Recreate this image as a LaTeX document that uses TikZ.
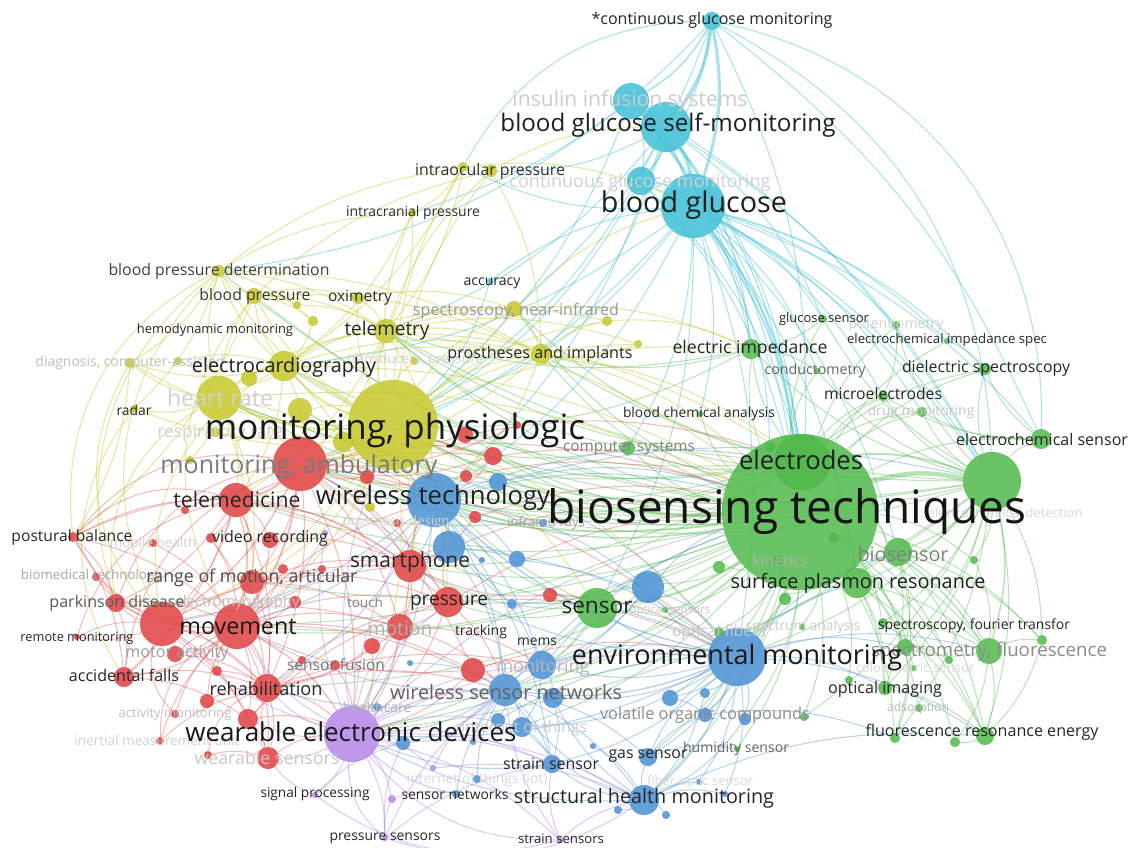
\documentclass[tikz,border=0pt]{standalone}
\usepackage{fontspec}
\setmainfont{Open Sans}
\usepackage{graphicx}
\pgfdeclarelayer{edges}
\pgfdeclarelayer{labels}
\pgfsetlayers{edges,main,labels}
\definecolor{vgreen}{RGB}{80,185,75}
\definecolor{vblue}{RGB}{74,144,212}
\definecolor{vred}{RGB}{224,64,64}
\definecolor{vyellow}{RGB}{198,200,42}
\definecolor{vcyan}{RGB}{62,192,214}
\definecolor{vpurple}{RGB}{180,134,232}
\tikzset{
  kw/.style={circle, inner sep=0pt, draw=black, draw opacity=0.06, line width=0.4pt, fill opacity=0.85},
  kl/.style={inner sep=0pt, anchor=center},
  ge/.style={draw=vgreen, draw opacity=0.40, line width=1pt},
  be/.style={draw=vblue, draw opacity=0.40, line width=1pt},
  re/.style={draw=vred, draw opacity=0.36, line width=1pt},
  ye/.style={draw=vyellow, draw opacity=0.45, line width=1pt},
  ce/.style={draw=vcyan, draw opacity=0.45, line width=1pt},
  pe/.style={draw=vpurple, draw opacity=0.45, line width=1pt},
}
\newcommand{\kwn}[4]{\node[kw, fill=#4, minimum size={2*#3pt}] (#1) at (#2) {};}
\newcommand{\kwl}[5]{\node[kl, text=#4] (#1) at (#2) {\resizebox{#3pt}{!}{#5}};}
\begin{document}
\begin{tikzpicture}[x=1pt,y=-1pt]
\useasboundingbox (0,0) rectangle (1131,847);
\begin{pgfonlayer}{edges}
\fill[white] (0,0) rectangle (1131,847);
\end{pgfonlayer}
% ---------------- cyan
\kwn{c1}{712,21}{9}{vcyan}
\kwn{c2}{631,101}{18}{vcyan}
\kwn{c3}{666,127}{25}{vcyan}
\kwn{c4}{641,181}{14}{vcyan}
\kwn{c5}{693,206}{32}{vcyan}
\kwn{c6}{490,281}{3}{vcyan}
% ---------------- yellow
\kwn{y1}{463,167}{5}{vyellow}
\kwn{y2}{491,171}{6}{vyellow}
\kwn{y3}{412,213}{4}{vyellow}
\kwn{y4}{219,271}{6}{vyellow}
\kwn{y5}{254,296}{8}{vyellow}
\kwn{y6}{297,305}{4}{vyellow}
\kwn{y7}{313,321}{5}{vyellow}
\kwn{y8}{358,298}{6}{vyellow}
\kwn{y9}{386,331}{12}{vyellow}
\kwn{y11}{514,309}{8}{vyellow}
\kwn{y12}{607,321}{5}{vyellow}
\kwn{y13}{638,344}{4}{vyellow}
\kwn{y14}{541,354}{10}{vyellow}
\kwn{y15}{414,361}{4}{vyellow}
\kwn{y16}{130,363}{5}{vyellow}
\kwn{y17}{178,361}{4}{vyellow}
\kwn{y18}{284,366}{15}{vyellow}
\kwn{y19}{249,378}{8}{vyellow}
\kwn{y20}{134,409}{4}{vyellow}
\kwn{y21}{219,398}{22}{vyellow}
\kwn{y22}{300,410}{12}{vyellow}
\kwn{y23}{393,425}{45}{vyellow}
\kwn{y25}{343,442}{10}{vyellow}
\kwn{y26}{215,432}{5}{vyellow}
\kwn{y28}{370,507}{5}{vyellow}
\kwn{y29}{190,460}{4}{vyellow}
% ---------------- red
\kwn{r1}{300,464}{27}{vred}
\kwn{r2}{236,500}{17}{vred}
\kwn{r3}{185,510}{4}{vred}
\kwn{r4}{493,456}{9}{vred}
\kwn{r5}{465,435}{8}{vred}
\kwn{r6}{517,425}{4}{vred}
\kwn{r7}{466,476}{6}{vred}
\kwn{r8}{475,517}{6}{vred}
\kwn{r9}{367,477}{7}{vred}
\kwn{r10}{73,537}{5}{vred}
\kwn{r11}{153,543}{4}{vred}
\kwn{r12}{211,538}{5}{vred}
\kwn{r13}{270,540}{8}{vred}
\kwn{r14}{410,566}{16}{vred}
\kwn{r15}{96,577}{4}{vred}
\kwn{r16}{252,582}{12}{vred}
\kwn{r17}{116,603}{9}{vred}
\kwn{r18}{162,624}{22}{vred}
\kwn{r19}{237,626}{23}{vred}
\kwn{r20}{283,569}{5}{vred}
\kwn{r21}{322,569}{4}{vred}
\kwn{r22}{77,637}{3}{vred}
\kwn{r23}{175,654}{8}{vred}
\kwn{r24}{217,671}{5}{vred}
\kwn{r25}{124,677}{10}{vred}
\kwn{r26}{267,688}{14}{vred}
\kwn{r27}{207,701}{7}{vred}
\kwn{r28}{175,714}{4}{vred}
\kwn{r29}{248,719}{10}{vred}
\kwn{r30}{160,741}{4}{vred}
\kwn{r31}{208,755}{4}{vred}
\kwn{r32}{268,758}{11}{vred}
\kwn{r33}{448,602}{15}{vred}
\kwn{r34}{400,627}{13}{vred}
\kwn{r35}{372,646}{8}{vred}
\kwn{r36}{335,665}{5}{vred}
\kwn{r37}{473,670}{12}{vred}
\kwn{r38}{550,595}{7}{vred}
\kwn{r39}{295,602}{6}{vred}
\kwn{r41}{302,660}{4}{vred}
\kwn{r45}{397,523}{4}{vred}
% ---------------- purple
\kwn{p1}{352,734}{28}{vpurple}
\kwn{p2}{315,795}{3}{vpurple}
\kwn{p3}{385,838}{3}{vpurple}
\kwn{p4}{560,840}{3}{vpurple}
\kwn{p5}{433,768}{3}{vpurple}
\kwn{p6}{392,799}{4}{vpurple}
\kwn{p7}{325,533}{3}{vpurple}
% ---------------- blue
\kwn{b1}{434,500}{27}{vblue}
\kwn{b2}{449,547}{16}{vblue}
\kwn{b3}{498,482}{9}{vblue}
\kwn{b4}{517,559}{8}{vblue}
\kwn{b5}{482,560}{3}{vblue}
\kwn{b6}{512,604}{5}{vblue}
\kwn{b7}{648,587}{16}{vblue}
\kwn{b8}{737,657}{29}{vblue}
\kwn{b9}{542,665}{14}{vblue}
\kwn{b10}{505,690}{16}{vblue}
\kwn{b11}{553,698}{10}{vblue}
\kwn{b12}{498,720}{7}{vblue}
\kwn{b13}{522,727}{10}{vblue}
\kwn{b14}{403,743}{7}{vblue}
\kwn{b15}{473,742}{3}{vblue}
\kwn{b16}{552,764}{9}{vblue}
\kwn{b17}{648,757}{9}{vblue}
\kwn{b18}{593,746}{3}{vblue}
\kwn{b19}{670,698}{8}{vblue}
\kwn{b20}{705,693}{5}{vblue}
\kwn{b21}{705,715}{7}{vblue}
\kwn{b22}{745,719}{6}{vblue}
\kwn{b23}{699,782}{3}{vblue}
\kwn{b24}{725,794}{3}{vblue}
\kwn{b25}{644,800}{15}{vblue}
\kwn{b26}{618,810}{4}{vblue}
\kwn{b27}{666,815}{4}{vblue}
\kwn{b28}{456,794}{4}{vblue}
\kwn{b29}{477,779}{4}{vblue}
\kwn{b30}{377,707}{4}{vblue}
\kwn{b31}{410,663}{3}{vblue}
\kwn{b33}{543,523}{4}{vblue}
% ---------------- green
\kwn{g1}{800,512}{78}{vgreen}
\kwn{g2}{802,462}{28}{vgreen}
\kwn{g3}{992,481}{29}{vgreen}
\kwn{g4}{1041,439}{10}{vgreen}
\kwn{g5}{751,349}{10}{vgreen}
\kwn{g6}{823,319}{4}{vgreen}
\kwn{g7}{896,325}{4}{vgreen}
\kwn{g8}{947,341}{3}{vgreen}
\kwn{g9}{817,371}{3}{vgreen}
\kwn{g10}{985,369}{6}{vgreen}
\kwn{g11}{883,396}{5}{vgreen}
\kwn{g12}{922,412}{5}{vgreen}
\kwn{g13}{700,414}{3}{vgreen}
\kwn{g14}{628,448}{7}{vgreen}
\kwn{g15}{770,447}{5}{vgreen}
\kwn{g16}{597,608}{20}{vgreen}
\kwn{g17}{665,610}{3}{vgreen}
\kwn{g18}{719,632}{5}{vgreen}
\kwn{g19}{802,627}{3}{vgreen}
\kwn{g20}{719,567}{6}{vgreen}
\kwn{g21}{778,561}{5}{vgreen}
\kwn{g22}{834,538}{5}{vgreen}
\kwn{g23}{785,599}{6}{vgreen}
\kwn{g24}{898,552}{14}{vgreen}
\kwn{g25}{857,583}{15}{vgreen}
\kwn{g26}{974,560}{4}{vgreen}
\kwn{g27}{883,623}{5}{vgreen}
\kwn{g28}{989,651}{13}{vgreen}
\kwn{g29}{1042,640}{5}{vgreen}
\kwn{g30}{905,647}{8}{vgreen}
\kwn{g31}{949,660}{4}{vgreen}
\kwn{g32}{914,668}{3}{vgreen}
\kwn{g33}{885,688}{7}{vgreen}
\kwn{g34}{849,680}{4}{vgreen}
\kwn{g35}{919,708}{4}{vgreen}
\kwn{g36}{895,738}{5}{vgreen}
\kwn{g37}{955,742}{5}{vgreen}
\kwn{g38}{985,736}{9}{vgreen}
\kwn{g39}{804,717}{4}{vgreen}
\kwn{g40}{737,749}{3}{vgreen}

\begin{pgfonlayer}{edges}
% cyan
\foreach \a/\b/\w in {c1/c3/3.5,c1/c5/3,c3/c5/4,c2/c3/2,c2/c5/2,c1/c2/1.5,c5/g1/1.8,c5/g2/1.8,c4/c5/1.5,c3/c4/1.2,c3/g1/1.3}
  \draw[ce, line width=\w pt] (\a) to[bend left=14] (\b);
\foreach \a/\b in {c1/c4,c2/c4,c3/g2,c2/g1,c1/g1,c5/g3,c3/g3,c1/g4,c5/g5,c3/g5,c5/g6,c5/y23,c3/y23,c5/y1,c3/y2,c2/y4,c5/y18,c3/b1,c5/b1,c5/g14,c5/g16,c5/b8,c4/g1,c5/g24,c5/g11,c6/c5,c6/y23,c5/g9,c5/g8,c2/y23,c1/y11,c3/y14,c5/g25,c5/g10,c1/y3,c4/g2,c5/g15,c2/g2,c5/g4,c3/g6,c4/g3,c2/g3,c5/g13,c5/g12,c4/y23,c3/y9,c5/g7,c5/r1,c2/g5}
  \draw[ce] (\a) to[bend left=14] (\b);
\draw[ce] (c1) to[bend left=40] (g4);
\draw[ce] (c1) to[bend left=30] (g3);
\draw[ce] (c1) to[bend right=30] (y1);
% green
\foreach \a/\b/\w in {g1/g2/3,g1/g3/4.5,g2/g3/2,g1/g16/2.2,g1/g24/2,g1/g25/2,g1/b8/2.5,g1/y23/2,g1/b1/1.6,g1/r1/1.4,g3/g28/1.5,g1/g28/1.5,g2/y23/1.3,g3/g24/1.3}
  \draw[ge, line width=\w pt] (\a) to[bend left=14] (\b);
\foreach \a/\b in {g1/g4,g3/g4,g1/g5,g2/g5,g1/g6,g1/g7,g1/g8,g1/g9,g1/g10,g3/g10,g1/g11,g1/g12,g1/g13,g1/g14,g1/g15,g1/g17,g1/g18,g1/g19,g1/g20,g1/g21,g1/g22,g1/g23,g1/g26,g1/g27,g1/g29,g1/g30,g1/g33,g1/g36,g1/g38,g1/g39,g3/g29,g3/g25,g24/g28,g25/g28,g28/g38,g28/g29,g28/g30,g25/g33,g27/g28,g27/g38,g24/g38,g3/g38,g24/g36,g26/g28,g30/g36,g33/g38,g1/b7,g1/y18,g1/y21,g1/r2,g1/r14,g1/r19,g1/p1,g1/b10,g1/y14,g1/y11,g2/b1,g5/y23,g16/b1,g16/b8,g16/y23,g1/b9,g1/b25,g1/g40,g3/g12,g3/g11,g4/g10,g2/g11,g1/r33,g16/r1,g14/y23,g1/r4,g16/b10,g3/g26,g3/y23,g3/r1,g1/y9,g1/r18,g2/r1,g3/b8,g3/g30,g3/g33,g1/g31,g1/g32,g1/g34,g1/g35,g1/g37,g28/g37,g38/g37,g30/g31,g25/g30,g24/g30,g3/g36,g29/g38,g8/g10,g7/g11,g5/g9,g6/g5,g2/g12,g3/g7,g1/b3,g16/r14,g1/y5,g1/y4,g2/y21,g3/y21,g1/r16,g1/r26,g3/g39,g1/b19,g1/b21,g16/b9,g2/y18,g2/r2,g3/b1,g3/y9,g3/y14,g2/y11,g2/r14,g3/p1,g3/b10,g2/r19,g1/y22,g1/y25,g2/y9,g1/r5,g1/r9,g5/y14,g5/y9,g14/y9,g2/g14,g3/g5,g4/g11,g4/g12,g3/g9,g3/g6,g1/b17,g1/b22,g16/r33,g16/p1,g2/g10,g24/g33,g25/g38,g24/g29,g3/g27,g22/g28,g1/b13}
  \draw[ge] (\a) to[bend left=14] (\b);
% yellow
\foreach \a/\b/\w in {y23/y18/2,y23/y21/2,y23/y9/1.6,y23/r1/2.2,y21/y18/1.4,y23/b1/1.4}
  \draw[ye, line width=\w pt] (\a) to[bend left=14] (\b);
\foreach \a/\b in {y23/y5,y23/y4,y23/y8,y23/y14,y23/y11,y23/y12,y23/y13,y23/y1,y23/y2,y23/y3,y23/y15,y23/y16,y23/y20,y23/y22,y23/y25,y23/y26,y23/r2,y23/r14,y23/r19,y23/r18,y23/p1,y23/b8,y23/g5,y21/y5,y21/y4,y21/y16,y21/y20,y21/r1,y21/r2,y18/y5,y18/y4,y18/y9,y18/y16,y18/r2,y5/y4,y5/y8,y5/y9,y5/y6,y5/y7,y4/y7,y4/y9,y4/y20,y4/y16,y8/y9,y9/y14,y9/y11,y9/y2,y1/y9,y2/y14,y1/y18,y3/y18,y11/y14,y14/y12,y13/y14,y14/g1,y9/b1,y9/r1,y16/r10,y5/r10,y19/y18,y22/y23,y22/r1,y14/b1,y11/g5,y12/g5,y9/g1,y1/c5,y2/c3,y17/y18,y17/y21,y3/y9,y1/y3,y4/y1,y5/y2,y8/y11,y6/y9,y7/y18,y21/y26,y21/y29,y18/y28,y21/r16,y9/g2,y14/g2,y11/c5,y18/g1,y21/g1,y4/y3,y18/y14,y18/y11,y21/y9,y21/y14,y4/y14,y5/y14,y9/y12,y9/y13,y21/r19,y18/r1,y23/r16,y23/r33,y23/r34,y9/r2,y14/r1,y11/r1,y21/b1,y18/b1,y23/b2,y23/g16,y9/y15}
  \draw[ye] (\a) to[bend left=14] (\b);
\foreach \a/\b in {y4/r18,y21/r17,y4/r17,y20/r25,y16/r18,y5/r19,y18/r18,y4/r10}
  \draw[ye] (\a) to[bend right=35] (\b);
% red
\foreach \a/\b/\w in {r1/r2/2,r1/r19/2,r19/r18/2,r1/r18/1.4,r2/r19/1.4,r19/p1/1.4,r19/r26/1.3}
  \draw[re, line width=\w pt] (\a) to[bend left=14] (\b);
\foreach \a/\b in {r1/r14,r1/r16,r1/r26,r1/r33,r1/r34,r1/b1,r2/r18,r2/r14,r2/r12,r2/r13,r2/r17,r2/r25,r2/r26,r19/r16,r19/r29,r19/r32,r19/r34,r19/r17,r19/r23,r19/r25,r19/r33,r19/r14,r18/r17,r18/r25,r18/r23,r18/r26,r18/r10,r18/r15,r18/r22,r18/r29,r18/r32,r16/r26,r16/r17,r16/r14,r26/r29,r26/r32,r26/p1,r29/r32,r32/p1,r14/r33,r14/b1,r14/b2,r33/r34,r33/p1,r33/b10,r34/p1,r34/r26,r37/p1,r37/b10,r10/r17,r10/r25,r10/r19,r12/r19,r13/r19,r24/r26,r23/r26,r27/r26,r28/r19,r30/r19,r30/r26,r31/r32,r35/r26,r36/p1,r4/r1,r4/b1,r5/y23,r7/r1,r8/r14,r38/g16,r38/b8,r39/r19,r41/r26,r20/r19,r21/r16,r1/g1,r14/g1,r33/g1,r26/b10,r17/r25,r22/r18,r11/r19,r15/r17,r3/r2,r9/r1,r45/r14,r6/r1,r4/g1,r37/b8,r33/b8,r35/p1,r34/b10,r14/r34,r16/r34,r25/r26,r23/r19,r29/p1,r37/r19,r38/r14,r8/g1,r2/r16,r13/r14,r12/r26,r17/r26,r24/r19,r27/r19,r25/r29,r18/r34,r1/p1,r1/r37,r2/r33,r19/r37,r26/r33,r18/r14,r16/r33,r14/p1,r1/r4,r2/r4,r19/b1,r33/b2,r34/b9,r37/b9,r7/g1,r5/g2,r1/b8,r19/b10,r26/b9,r29/r33,r32/r26,r10/r2,r17/r19}
  \draw[re] (\a) to[bend left=14] (\b);
\foreach \a/\b in {r1/r10,r2/r22,r1/r17,r19/r30,r26/r31,r18/r28,r14/r10,r2/r10,r1/r25}
  \draw[re] (\a) to[bend right=30] (\b);
% blue
\foreach \a/\b/\w in {b8/b1/1.6,b8/b25/1.5,b8/b10/1.4,b1/b10/1.2}
  \draw[be, line width=\w pt] (\a) to[bend left=14] (\b);
\foreach \a/\b in {b8/b9,b8/b16,b8/b17,b8/b19,b8/b20,b8/b21,b8/b22,b8/b7,b8/b11,b8/b13,b8/b23,b8/b24,b8/g16,b8/g28,b8/g30,b8/g33,b1/b2,b1/b3,b1/b4,b1/b7,b1/b9,b1/r1,b1/r14,b1/p1,b1/y23,b1/g1,b10/b9,b10/b11,b10/b12,b10/b13,b10/p1,b10/b14,b10/b16,b10/b25,b25/b16,b25/b17,b25/b26,b25/b27,b25/b23,b25/b24,b25/b13,b25/b11,b25/p1,b7/b10,b7/g16,b7/g1,b9/b11,b2/b10,b2/b4,b14/p1,b16/p1,b17/b21,b19/b21,b15/b10,b28/b10,b28/p1,b29/b10,b31/b10,b6/b1,b6/b8,b3/g1,b33/b1,b18/b25,b30/p1,b2/r14,b5/b1,b12/b8,b22/b25,b20/b25,b17/b8,b9/b8,b13/b16,b11/b16,b4/b8,b2/b8,b7/b9,b3/b8,b1/r19,b10/r19,b8/g24,b8/g25,b8/g38,b25/g38,b17/g40,b21/g36,b14/b16,b1/g2,b1/g3,b10/g1,b9/g1,b1/r18,b1/r26,b10/r26,b8/r14,b8/p1,b25/b10,b7/b8,b1/b16,b2/b9,b9/b13,b10/b17}
  \draw[be] (\a) to[bend left=14] (\b);
% purple
\draw[pe, line width=1.5pt] (p1) to[bend left=14] (b10);
\foreach \a/\b in {p1/p2,p1/p3,p1/p4,p1/p5,p1/p6,p1/b25,p1/b16,p1/r19,p1/r26,p1/b1,p1/b8,p1/r32,p1/r33,p1/p7,p3/b10,p4/b25,p4/b16,p3/p6,p2/r32,p5/b10,p1/y23,p1/g1,p1/b14,p1/r18,p4/b10,p3/b16,p5/b25,p6/b28,p7/r19,p1/b9,p1/b13,p1/r29,p1/r34,p3/b14,p2/b14}
  \draw[pe] (\a) to[bend left=14] (\b);
\foreach \a/\b in {p1/p3,p1/p4,p2/p4,p3/b25}
  \draw[pe] (\a) to[bend right=25] (\b);
\end{pgfonlayer}

\begin{pgfonlayer}{labels}
% faint labels
\kwl{l2}{630,101}{235}{black!20}{insulin infusion systems}
\kwl{l4}{640,183}{261}{black!18}{continuous glucose monitoring}
\kwl{l16}{415,360}{136}{black!18}{transducers, pressure}
\kwl{l17}{130,363}{189}{black!25}{diagnosis, computer-assisted}
\kwl{l20}{220,398}{106}{black!18}{heart rate}
\kwl{l21}{220,433}{125}{black!18}{respiratory rate}
\kwl{l27}{153,542}{87}{black!18}{mobile health}
\kwl{l30}{91,576}{140}{black!35}{biomedical technology}
\kwl{l33}{237,603}{125}{black!25}{electromyography}
\kwl{l45}{175,714}{113}{black!25}{activity monitoring}
\kwl{l46}{157,740}{165}{black!18}{inertial measurement unit}
\kwl{l47}{267,758}{145}{black!22}{wearable sensors}
\kwl{l49}{377,707}{69}{black!30}{healthcare}
\kwl{l50}{543,668}{93}{black!28}{monitoring}
\kwl{l53}{670,610}{81}{black!22}{optical sensors}
\kwl{l54}{719,632}{94}{black!22}{optical fibers}
\kwl{l55}{803,627}{115}{black!20}{spectrum analysis}
\kwl{l60}{524,728}{126}{black!20}{internet of things}
\kwl{l61}{477,780}{141}{black!15}{internet of things (iot)}
\kwl{l62}{700,782}{106}{black!15}{fiber optic sensor}
\kwl{l63}{896,325}{95}{black!18}{potentiometry}
\kwl{l64}{921,412}{107}{black!22}{drug monitoring}
\kwl{l65}{780,561}{55}{black!30}{kinetics}
\kwl{l66}{915,668}{119}{black!15}{colorimetric sensor}
\kwl{l67}{918,708}{62}{black!28}{adsorption}
\kwl{l68}{1005,513}{155}{black!15}{electrochemical detection}
\kwl{l69}{546,523}{78}{black!35}{infrared rays}
\kwl{l70}{396,522}{107}{black!18}{prosthesis design}
% medium labels
\kwl{l14}{516,311}{206}{black!40}{spectroscopy, near-infrared}
\kwl{l23}{299,467}{277}{black!52}{monitoring, ambulatory}
\kwl{l34}{365,602}{36}{black!50}{touch}
\kwl{l37}{400,628}{65}{black!30}{motion}
\kwl{l39}{177,654}{103}{black!38}{motor activity}
\kwl{l40}{336,665}{98}{black!55}{sensor fusion}
\kwl{l51}{506,692}{232}{black!62}{wireless sensor networks}
\kwl{l57}{705,715}{210}{black!45}{volatile organic compounds}
\kwl{l58}{736,749}{106}{black!60}{humidity sensor}
\kwl{l71}{629,448}{132}{black!50}{computer systems}
\kwl{l72}{903,554}{91}{black!50}{biosensor}
\kwl{l73}{989,652}{236}{black!45}{spectrometry, fluorescence}
\kwl{l74}{815,371}{101}{black!60}{conductometry}
\kwl{l32}{117,603}{135}{black!65}{parkinson disease}
% dark labels
\kwl{l1}{712,20}{241}{black!85}{*continuous glucose monitoring}
\kwl{l3}{668,125}{335}{black!88}{blood glucose self-monitoring}
\kwl{l5}{694,205}{186}{black!88}{blood glucose}
\kwl{l6}{492,283}{57}{black!85}{accuracy}
\kwl{l7}{490,171}{150}{black!82}{intraocular pressure}
\kwl{l8}{413,213}{134}{black!82}{intracranial pressure}
\kwl{l9}{219,271}{221}{black!75}{blood pressure determination}
\kwl{l10}{255,296}{111}{black!78}{blood pressure}
\kwl{l11}{360,298}{64}{black!82}{oximetry}
\kwl{l12}{215,330}{156}{black!85}{hemodynamic monitoring}
\kwl{l13}{387,331}{85}{black!85}{telemetry}
\kwl{l15}{540,354}{185}{black!85}{prostheses and implants}
\kwl{l18}{284,367}{184}{black!88}{electrocardiography}
\kwl{l19}{134,410}{35}{black!85}{radar}
\kwl{l22}{395,430}{380}{black!90}{monitoring, physiologic}
\kwl{l24}{237,500}{127}{black!85}{telemedicine}
\kwl{l25}{433,498}{234}{black!88}{wireless technology}
\kwl{l26}{72,537}{121}{black!85}{postural balance}
\kwl{l28}{270,538}{116}{black!85}{video recording}
\kwl{l29}{410,562}{120}{black!85}{smartphone}
\kwl{l31}{252,578}{211}{black!70}{range of motion, articular}
\kwl{l35}{449,603}{78}{black!85}{pressure}
\kwl{l36}{238,627}{117}{black!90}{movement}
\kwl{l38}{77,638}{113}{black!85}{remote monitoring}
\kwl{l41}{481,632}{52}{black!85}{tracking}
\kwl{l42}{537,642}{40}{black!85}{mems}
\kwl{l43}{124,675}{110}{black!85}{accidental falls}
\kwl{l44}{266,689}{113}{black!85}{rehabilitation}
\kwl{l48}{351,732}{331}{black!90}{wearable electronic devices}
\kwl{l52}{597,607}{71}{black!88}{sensor}
\kwl{l56}{737,657}{330}{black!90}{environmental monitoring}
\kwl{l59}{648,756}{79}{black!85}{gas sensor}
\kwl{l75}{551,764}{96}{black!85}{strain sensor}
\kwl{l76}{455,794}{107}{black!85}{sensor networks}
\kwl{l77}{644,798}{260}{black!85}{structural health monitoring}
\kwl{l78}{385,838}{111}{black!85}{pressure sensors}
\kwl{l79}{561,839}{86}{black!85}{strain sensors}
\kwl{l80}{315,794}{109}{black!85}{signal processing}
\kwl{l81}{801,460}{124}{black!88}{electrodes}
\kwl{l82}{787,512}{479}{black!92}{biosensing techniques}
\kwl{l83}{1042,439}{172}{black!85}{electrochemical sensor}
\kwl{l84}{824,319}{90}{black!85}{glucose sensor}
\kwl{l85}{947,340}{200}{black!85}{electrochemical impedance spec}
\kwl{l86}{750,349}{155}{black!85}{electric impedance}
\kwl{l87}{986,368}{168}{black!85}{dielectric spectroscopy}
\kwl{l88}{883,394}{118}{black!85}{microelectrodes}
\kwl{l89}{699,414}{152}{black!85}{blood chemical analysis}
\kwl{l90}{858,583}{255}{black!88}{surface plasmon resonance}
\kwl{l91}{974,626}{192}{black!85}{spectroscopy, fourier transfor}
\kwl{l92}{885,689}{114}{black!85}{optical imaging}
\kwl{l93}{982,732}{233}{black!85}{fluorescence resonance energy}
\end{pgfonlayer}
\end{tikzpicture}
\end{document}
